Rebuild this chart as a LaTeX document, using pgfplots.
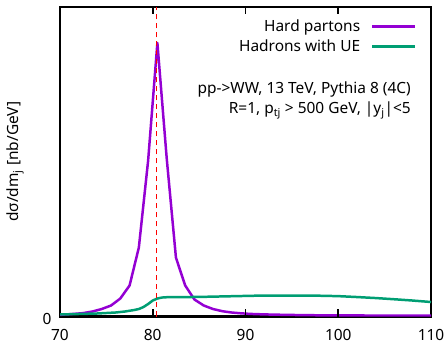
\documentclass[border=0pt]{standalone}
\usepackage{fontspec}
\setmainfont{Noto Sans}
\usepackage{pgfplots}
\pgfplotsset{compat=1.18}
\definecolor{hardc}{HTML}{9400D3}
\definecolor{hadc}{HTML}{009E73}
\newcommand{\fs}{\fontsize{15.5}{18.5}\selectfont}
\begin{document}
\begin{tikzpicture}
\useasboundingbox (-60bp,-28.5bp) rectangle (388bp,316.5bp);
\begin{axis}[
  at={(0,0)}, anchor=south west,
  scale only axis, width=371bp, height=309.5bp,
  xmin=70, xmax=110, ymin=0, ymax=310,
  xtick={70,80,90,100,110}, ytick={0},
  xtick pos=both,
  xtick align=inside,
  major tick length=7bp,
  every axis/.append style={line width=2.6pt},
  every major tick/.append style={draw=black, line width=1.8pt},
  /pgf/number format/assume math mode=true,
  xticklabel style={font=\fs, yshift=-8bp},
  yticklabel style={font=\fs, xshift=-4bp, yshift=-2bp},
  ylabel={dσ/dm\textsubscript{j} [nb/GeV]},
  ylabel style={font=\fs, at={(rel axis cs:-0.121,0.5)}, anchor=center},
  legend cell align=right,
  legend plot pos=right,
  legend style={draw=none, fill=none, at={(rel axis cs:0.97,0.972)}, anchor=north east,
    font=\fs, row sep=3bp, column sep=9bp, line width=0.4pt},
  legend image code/.code={\draw[#1] (0bp,0bp) -- (43bp,0bp);},
  clip=true,
]
\addplot[hardc, line width=2.5pt, line join=round] coordinates {
(70,1.5) (70.5,2) (71.5,2.6) (72.5,3.4) (73.5,5) (74.5,7.5) (75.5,11) (76.5,18) (77.5,31)
(78.5,69) (79.5,156) (80.5,274) (81.5,159) (82.5,59) (83.5,31) (84.5,17) (85.5,11)
(86.5,7.5) (87.5,5.3) (88.5,4) (89.5,3.2) (90.5,2.6) (92,2.1) (94,1.7) (96,1.4)
(98,1.2) (100,1.1) (103,1) (106,1) (110,1)
};
\addlegendentry{Hard partons}
\addplot[hadc, line width=2.5pt, line join=round] coordinates {
(70,2) (72,2.5) (74,3) (76,4) (77,5) (78,6.5) (78.5,7.5) (79,9.5) (79.5,12.5) (80,16)
(80.5,18) (81,19) (81.5,19.3) (82,19.3) (84,19.5) (86,19.8) (88,20.2) (90,20.6)
(92,21) (94,21) (96,21) (98,20.8) (100,20.4) (102,19.5) (104,18.5) (106,17.3)
(108,16) (110,14.5)
};
\addlegendentry{Hadrons with UE}
\draw[red, line width=1.6pt, dash pattern=on 5bp off 4bp] (axis cs:80.385,0) -- (axis cs:80.385,310);
\draw[black, line width=1.8pt]
  (axis cs:80,0) -- (axis cs:80,7) (axis cs:90,0) -- (axis cs:90,7) (axis cs:100,0) -- (axis cs:100,7)
  (axis cs:80,310) -- (axis cs:80,303) (axis cs:90,310) -- (axis cs:90,303) (axis cs:100,310) -- (axis cs:100,303);
\node[anchor=east, align=right, font=\fs] at (rel axis cs:0.958,0.735) {pp->WW, 13 TeV, Pythia 8 (4C)};
\node[anchor=east, align=right, font=\fs] at (rel axis cs:0.958,0.665) {R=1, p\textsubscript{tj} > 500 GeV, |y\textsubscript{j}|<5};
\end{axis}
\end{tikzpicture}
\end{document}
